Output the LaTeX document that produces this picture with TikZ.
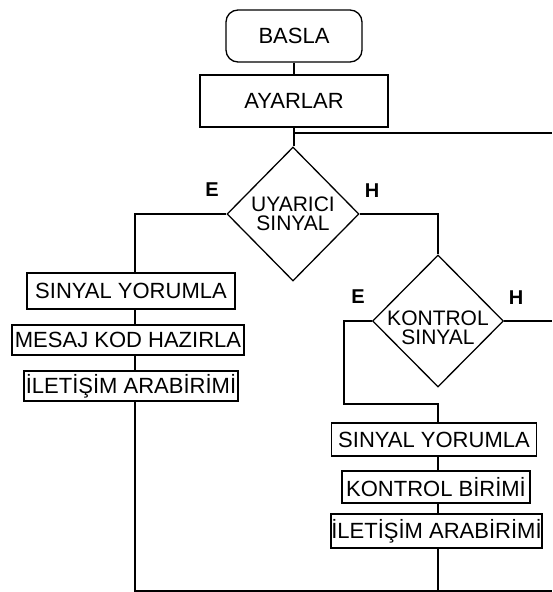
\documentclass[tikz,border=0pt]{standalone}
\usepackage{fontspec}
\setmainfont{Liberation Sans}
\usetikzlibrary{shapes.geometric}
\newcommand{\boxfont}{\fontsize{22}{22}\selectfont}
\newcommand{\dfont}{\fontsize{21}{19.5}\selectfont}
\newcommand{\lfont}{\fontsize{20}{20}\selectfont\bfseries}
\tikzset{
  stepbox/.style={draw, line width=1.3pt, inner sep=0pt, font=\boxfont},
  startbox/.style={stepbox, rounded corners=12pt},
  decbox/.style={draw, line width=1.3pt, shape=diamond, inner sep=0pt},
  dtext/.style={inner sep=0pt, align=center, font=\dfont},
  yn/.style={inner sep=0pt, font=\lfont},
  conn/.style={line width=1.3pt},
}
\begin{document}
\begin{tikzpicture}[x=1pt,y=-1pt]
\useasboundingbox[fill=white] (0,0) rectangle (552,592);
% top
\node[startbox, minimum width=136pt, minimum height=52pt] (basla) at (294,36) {BASLA};
\node[stepbox, minimum width=188pt, minimum height=52pt] (ayar) at (294,101) {AYARLAR};
\coordinate (top) at (294,133);
\coordinate (topR) at (552,133);
% first decision
\node[decbox, minimum width=132pt, minimum height=134pt] (d1) at (293,214) {};
\node[dtext] (t1) at (293,214) {UYARICI\\SINYAL};
\node[yn] (e1) at (212,190) {E};
\node[yn] (h1) at (372,191) {H};
% left branch
\coordinate (cL) at (135,214);
\node[stepbox, minimum width=208pt, minimum height=36pt] (s1) at (131,291) {SINYAL YORUMLA};
\node[stepbox, minimum width=232pt, minimum height=30pt] (m1) at (128,340) {MESAJ KOD HAZIRLA};
\node[stepbox, minimum width=214pt, minimum height=30pt] (i1) at (131,386) {İLETİŞİM ARABİRİMİ};
% second decision
\node[decbox, minimum width=131pt, minimum height=132pt] (d2) at (438,321) {};
\node[dtext] (t2) at (438,328) {KONTROL\\SINYAL};
\node[yn] (e2) at (358,297) {E};
\node[yn] (h2) at (516,298) {H};
\coordinate (cE) at (344,321);
\coordinate (cJ) at (344,404);
\coordinate (rightR) at (552,321);
% right branch
\node[stepbox, minimum width=205pt, minimum height=33pt] (s2) at (434,439.5) {SINYAL YORUMLA};
\node[stepbox, minimum width=188pt, minimum height=32pt] (k2) at (436,487) {KONTROL BİRİMİ};
\node[stepbox, minimum width=211pt, minimum height=34pt] (i2) at (436.5,531) {İLETİŞİM ARABİRİMİ};
% bottom
\coordinate (bL) at (135,591);
\coordinate (bR) at (552,591);
% connectors
\draw[conn] (basla.south) -- (ayar.north);
\draw[conn] (ayar.south) -- (d1.north -| ayar.south);
\draw[conn] (top) -- (topR);
\draw[conn] (d1.west) -- (cL) -- (s1.north -| cL);
\draw[conn] (s1.south -| cL) -- (m1.north -| cL);
\draw[conn] (m1.south -| cL) -- (i1.north -| cL);
\draw[conn] (i1.south -| cL) -- (bL) -- (bR);
\draw[conn] (d1.east) -| (d2.north);
\draw[conn] (d2.west) -- (cE) -- (cJ) -- (cJ -| d2.south) -- (s2.north -| d2.south);
\draw[conn] (d2.east) -- (rightR);
\draw[conn] (s2.south -| d2.south) -- (k2.north -| d2.south);
\draw[conn] (k2.south -| d2.south) -- (i2.north -| d2.south);
\draw[conn] (i2.south -| d2.south) -- (bR -| d2.south);
\end{tikzpicture}
\end{document}
